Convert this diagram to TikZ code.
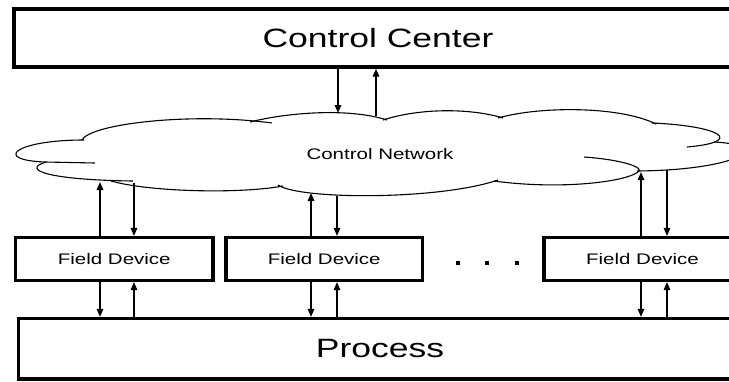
\documentclass[tikz,border=0pt]{standalone}
\usepackage{fontspec}
\setmainfont{Liberation Sans}
\usepackage{graphicx}
\usepackage{tikz}
\usetikzlibrary{arrows.meta}

\newcommand{\widetext}[1]{\scalebox{1.34}[1]{#1}}

\begin{document}
\begin{tikzpicture}[x=1pt,y=1pt,yscale=-1,xscale=1,
  box/.style={draw, line width=3.2pt, inner sep=0pt},
  bigtext/.style={font=\fontsize{26.5}{30}\selectfont},
  smalltext/.style={font=\fontsize{15.3}{18}\selectfont},
  flow/.style={line width=1.5pt, -{Triangle[length=8pt,width=6.5pt]}},
  cloudline/.style={line width=1.1pt}]
%set diagram left start at 0, and has height of 381
\useasboundingbox (0,0) rectangle (729,381);
\clip (0,0) rectangle (729,381);

%Shape: Cloud
\draw [cloudline] (82,140) .. controls (90,124) and (190,112) .. (272,123) ;
\draw [cloudline] (250,122) .. controls (290,112) and (350,108) .. (387,120) ;
\draw [cloudline] (383,120) .. controls (420,108) and (470,108) .. (503,118) ;
\draw [cloudline] (498,118) .. controls (540,106) and (620,106) .. (656,124) ;
\draw [cloudline] (652,123) .. controls (722,126) and (745,142) .. (687,147) ;
\draw [cloudline] (714,142) .. controls (775,145) and (740,170) .. (637,171) ;
\draw [cloudline] (584,157) .. controls (625,160) and (645,168) .. (638,172) .. controls (625,182) and (560,190) .. (494,181) ;
\draw [cloudline] (498,180) .. controls (440,200) and (300,200) .. (278,185) ;
\draw [cloudline] (283,186) .. controls (240,194) and (150,192) .. (111,181) ;
\draw [cloudline] (46,162) .. controls (20,170) and (50,180) .. (133,181) ;
\draw [cloudline] (84,140) .. controls (15,140) and (-8,160) .. (45,162) -- (95,163) ;

%Points on the cloud
\coordinate (top1) at (338,113);
\coordinate (top2) at (376,116);
\coordinate (bot1a) at (100,182);
\coordinate (bot1b) at (134,183);
\coordinate (bot2a) at (311,193);
\coordinate (bot2b) at (337,196);
\coordinate (bot3a) at (641,172);
\coordinate (bot3b) at (667,170);

% Text Node
\node [smalltext] (net) at (380,154) {\widetext{Control Network}};

%Shape: Rectangle
\node [box, bigtext, minimum width=728pt, minimum height=58pt] (cc) at (378,38) {\widetext{Control Center}};
%Shape: Rectangle
\node [box, bigtext, minimum width=723pt, minimum height=60.5pt] (proc) at (380,348.75) {\widetext{Process}};
%Shape: Rectangle
\node [box, smalltext, minimum width=197.5pt, minimum height=43pt] (fd1) at (114.25,259) {\widetext{Field Device}};
%Shape: Rectangle
\node [box, smalltext, minimum width=196.5pt, minimum height=43pt] (fd2) at (324.25,259) {\widetext{Field Device}};
%Shape: Rectangle
\node [box, smalltext, minimum width=197pt, minimum height=43pt] (fd3) at (642.5,259) {\widetext{Field Device}};

%Dots
\fill (456,261) rectangle (460,264.5) ;
\fill (485,261) rectangle (489,264.5) ;
\fill (515,261) rectangle (519,264.5) ;

%Straight Lines
\draw [flow] (cc.south -| top1) -- (top1) ;
\draw [flow] (top2) -- (cc.south -| top2) ;

%Straight Lines
\draw [flow] (fd1.north -| bot1a) -- (bot1a) ;
\draw [flow] (bot1b) -- (fd1.north -| bot1b) ;
\draw [flow] (fd2.north -| bot2a) -- (bot2a) ;
\draw [flow] (bot2b) -- (fd2.north -| bot2b) ;
\draw [flow] (fd3.north -| bot3a) -- (bot3a) ;
\draw [flow] (bot3b) -- (fd3.north -| bot3b) ;

%Straight Lines
\draw [flow] (fd1.south -| bot1a) -- (proc.north -| bot1a) ;
\draw [flow] (proc.north -| bot1b) -- (fd1.south -| bot1b) ;
\draw [flow] (fd2.south -| bot2a) -- (proc.north -| bot2a) ;
\draw [flow] (proc.north -| bot2b) -- (fd2.south -| bot2b) ;
\draw [flow] (fd3.south -| bot3a) -- (proc.north -| bot3a) ;
\draw [flow] (proc.north -| bot3b) -- (fd3.south -| bot3b) ;
\end{tikzpicture}
\end{document}
